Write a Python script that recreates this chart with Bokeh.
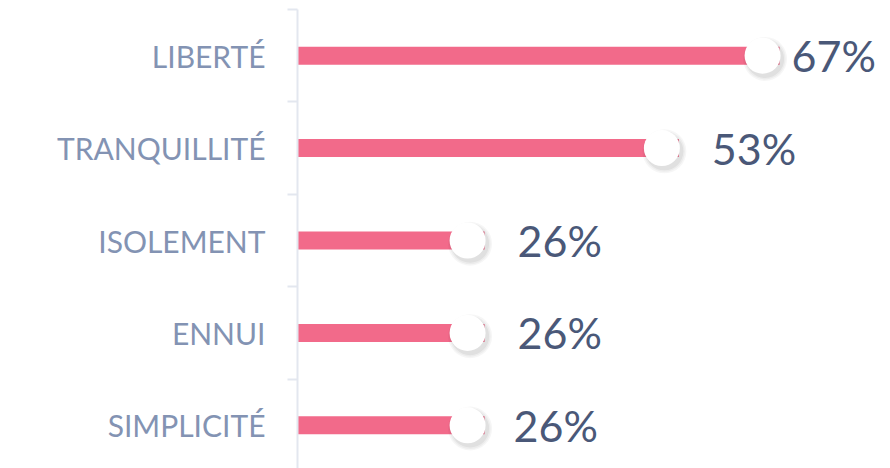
from bokeh.plotting import figure
from bokeh.models import Range1d, FixedTicker, ColumnDataSource
from bokeh.transform import dodge
from bokeh.embed import file_html
from bokeh.resources import INLINE
from bokeh.core.properties import value

categories = ["LIBERTÉ", "TRANQUILLITÉ", "ISOLEMENT", "ENNUI", "SIMPLICITÉ"]
percentages = [67, 53, 26, 26, 26]

rows = list(range(len(categories)))
labels = [f"{v}%" for v in percentages]
label_dx = [12, 33, 33, 33, 29]  # pixel offset of value labels (style)

W, H = 890, 468
LEFT, TOP = 297, 9
BAND = 92.4         # px per category
PX_PER_UNIT = 7.195  # px per percent

src = ColumnDataSource(dict(row=rows, pct=percentages, label=labels, dx=label_dx))

p = figure(width=W, height=H, output_backend="svg", toolbar_location=None,
           x_range=Range1d(0, (W - LEFT) / PX_PER_UNIT),
           y_range=Range1d((H - TOP) / BAND - 0.5, -0.5),
           min_border_left=LEFT, min_border_right=0,
           min_border_top=TOP, min_border_bottom=0)
p.outline_line_color = None
p.xgrid.visible = False
p.ygrid.visible = False
p.xaxis.visible = False
p.background_fill_color = "white"
p.border_fill_color = "white"

ax = p.yaxis[0]
ax.ticker = FixedTicker(ticks=rows, minor_ticks=[r - 0.5 for r in rows])
ax.major_label_overrides = {r: c for r, c in zip(rows, categories)}
ax.major_tick_line_color = None
ax.major_tick_out = 0
ax.major_tick_in = 0
ax.minor_tick_out = 10
ax.minor_tick_in = 0
ax.minor_tick_line_color = "#e3e7ef"
ax.minor_tick_line_width = 2
ax.axis_line_color = "#e3e7ef"
ax.axis_line_width = 2
ax.major_label_standoff = 22
ax.major_label_text_font = "Lato"
ax.major_label_text_font_size = "30px"
ax.major_label_text_color = "#8393b3"

p.hbar(y="row", left=0, right="pct", height=0.195, fill_color="#f26a8a",
       line_color=None, source=src)

# soft shadow under the knobs
for s, a in [(44, 0.035), (41, 0.04), (38, 0.05)]:
    p.scatter(x=dodge("pct", -2.36 + 0.35, range=p.x_range),
              y=dodge("row", 0.035, range=p.y_range),
              size=s, fill_color="black", fill_alpha=a, line_color=None, source=src)

p.scatter(x=dodge("pct", -2.36, range=p.x_range), y="row", size=36,
          fill_color="white", line_color=None, source=src)

p.text(x="pct", y="row", text="label", x_offset="dx", text_baseline="middle",
       text_align="left", text_font=value("Lato"), text_font_size="43px",
       text_color="#4a5878", source=src)

open("out.html", "w").write(file_html(p, INLINE))
